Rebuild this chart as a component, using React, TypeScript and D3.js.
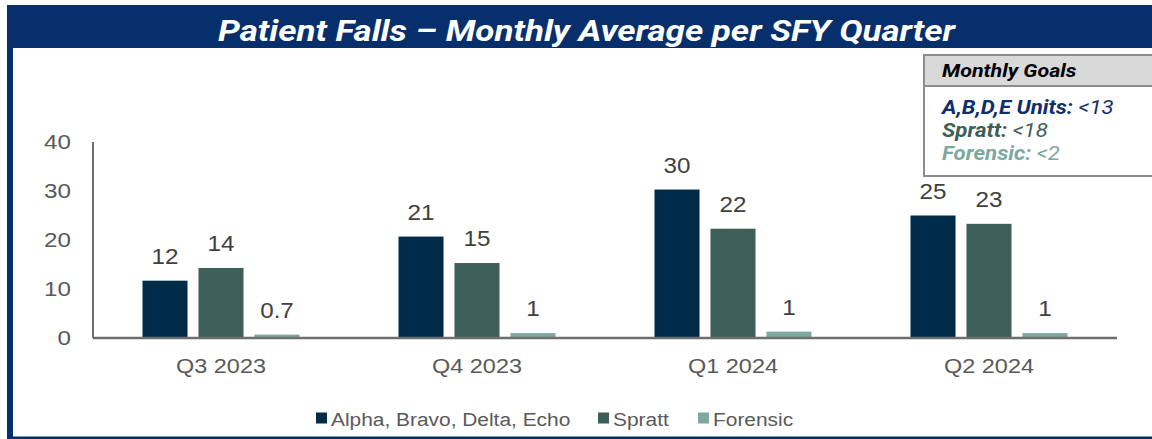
import React from "react";
import * as d3 from "d3";

const categories = ["Q3 2023", "Q4 2023", "Q1 2024", "Q2 2024"];
const seriesNames = ["Alpha, Bravo, Delta, Echo", "Spratt", "Forensic"];
const seriesColors = ["#002B49", "#3E5F58", "#7BA89F"];
const alphaValues = [11.7, 20.7, 30.3, 25.0];
const sprattValues = [14.3, 15.3, 22.3, 23.3];
const forensicValues = [0.7, 1.0, 1.3, 1.0];
const yTicks = [0, 10, 20, 30, 40];
const goalLabels = ["A,B,D,E Units:", "Spratt:", "Forensic:"];
const goalValues = ["<13", "<18", "<2"];
const goalColors = ["#0E2F6B", "#3E5F58", "#7BA89F"];
const title = "Patient Falls \u2013 Monthly Average per SFY Quarter";

const W = 1152;
const H = 439;
const NAVY = "#072F6B";
const FONT = "'Liberation Sans', Arial, sans-serif";

const fmt = (v: number) => (v < 1 ? v.toFixed(1) : String(Math.round(v)));

function SText(props: {
  x: number;
  y: number;
  sx: number;
  anchor?: string;
  size: number;
  fill: string;
  family?: string;
  weight?: string;
  italic?: boolean;
  dy?: string;
  children: React.ReactNode;
}) {
  return (
    <text
      transform={`translate(${props.x},${props.y}) scale(${props.sx},1)`}
      textAnchor={props.anchor || "start"}
      fontFamily={props.family || FONT}
      fontSize={props.size}
      fontWeight={props.weight || "normal"}
      fontStyle={props.italic ? "italic" : "normal"}
      fill={props.fill}
      dy={props.dy}
    >
      {props.children}
    </text>
  );
}

export default function App() {
  const series = [alphaValues, sprattValues, forensicValues];
  const plotLeft = 93;
  const plotRight = 1117;
  const y = d3.scaleLinear().domain([0, 40]).range([338, 142]);
  const x = d3.scaleBand<string>().domain(categories).range([plotLeft, plotRight]);
  const xi = d3
    .scaleBand<string>()
    .domain(seriesNames)
    .range([0, x.bandwidth()])
    .paddingInner(0.196)
    .paddingOuter(0.884);

  const legendX = [316, 598, 698];

  return (
    <div style={{ position: "fixed", left: 0, top: 0 }}>
      <svg width={W} height={H} style={{ display: "block", background: "#fff" }}>
        {/* frame */}
        <rect x={7} y={5} width={W - 7} height={43} fill={NAVY} />
        <rect x={7} y={5} width={6} height={H - 5} fill={NAVY} />
        <rect x={7} y={436.5} width={W - 7} height={2.5} fill={NAVY} />
        <text
          x={586.5}
          y={41}
          textAnchor="middle"
          fill="#fff"
          fontFamily="Roboto, 'Liberation Sans', sans-serif"
          fontWeight="bold"
          fontStyle="italic"
          fontSize={30}
          textLength={737}
          lengthAdjust="spacingAndGlyphs"
        >
          {title}
        </text>

        {/* goals box */}
        <rect x={924} y={55} width={240} height={121} fill="#fff" stroke="#8C8C8C" strokeWidth={2} />
        <rect x={924} y={55} width={240} height={31} fill="#D9D9D9" stroke="#8C8C8C" strokeWidth={2} />
        <SText x={942} y={77} sx={1.19} size={18} family="Roboto, sans-serif" weight="bold" italic fill="#000">
          Monthly Goals
        </SText>
        {goalLabels.map((g, i) => (
          <SText
            key={g}
            x={942}
            y={114 + i * 23}
            sx={1.14}
            size={19.5}
            family="Roboto, sans-serif"
            italic
            fill={goalColors[i]}
          >
            <tspan fontWeight="bold">{g}</tspan>
            <tspan> {goalValues[i]}</tspan>
          </SText>
        ))}

        {/* axes */}
        <line x1={plotLeft} x2={plotLeft} y1={y(40)} y2={y(0)} stroke="#6E6E6E" strokeWidth={2} />
        {yTicks.map((t) => (
          <SText key={t} x={71} y={y(t)} dy="0.35em" sx={1.18} anchor="end" size={20.5} fill="#595959">
            {t}
          </SText>
        ))}

        {/* bars */}
        {categories.map((c, ci) => (
          <g key={c} transform={`translate(${x(c)},0)`}>
            {series.map((vals, si) => {
              const v = vals[ci];
              const bx = xi(seriesNames[si]) as number;
              return (
                <g key={si}>
                  <rect
                    x={bx}
                    y={y(v)}
                    width={xi.bandwidth()}
                    height={y(0) - y(v)}
                    fill={seriesColors[si]}
                  />
                  <SText
                    x={bx + xi.bandwidth() / 2}
                    y={y(v) - 17}
                    sx={1.1}
                    anchor="middle"
                    size={22}
                    fill="#404040"
                  >
                    {fmt(v)}
                  </SText>
                </g>
              );
            })}
            <SText x={x.bandwidth() / 2} y={373} sx={1.117} anchor="middle" size={21} fill="#595959">
              {c}
            </SText>
          </g>
        ))}
        <line x1={plotLeft} x2={plotRight} y1={y(0)} y2={y(0)} stroke="#6E6E6E" strokeWidth={2.5} />

        {/* legend */}
        {seriesNames.map((s, i) => (
          <g key={s}>
            <rect x={legendX[i]} y={412.5} width={11} height={11} fill={seriesColors[i]} />
            <SText x={legendX[i] + 15} y={426} sx={1.1} size={19} fill="#595959">
              {s}
            </SText>
          </g>
        ))}
      </svg>
    </div>
  );
}
